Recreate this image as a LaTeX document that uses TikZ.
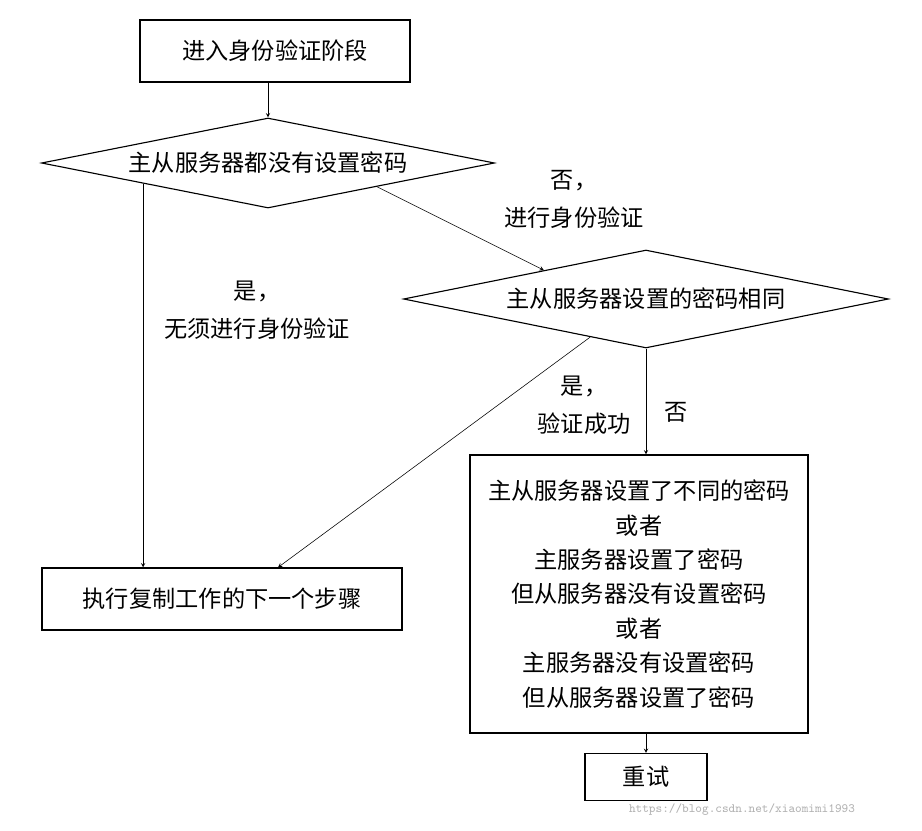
\documentclass[tikz,border=0pt]{standalone}
\usepackage{fontspec}
\setmainfont{Noto Sans CJK SC}
\usetikzlibrary{shapes.geometric,calc}
\begin{document}
\begin{tikzpicture}[x=0.025cm, y=-0.025cm, >=stealth,
  boxStyle/.style={rectangle, draw, thick, font=\fontsize{16.5}{24.5}\selectfont, align=center, inner sep=0pt},
  decStyle/.style={diamond, draw, thick, font=\fontsize{16.5}{24.5}\selectfont, inner sep=0pt},
  labStyle/.style={font=\fontsize{16.5}{27}\selectfont, align=center},
  lineStyle/.style={thin}]
  \useasboundingbox (0,0) rectangle (922,830);

  \node[boxStyle, minimum width=270*0.025cm, minimum height=62*0.025cm] (start) at (275,51) {进入身份验证阶段};
  \node[decStyle, aspect=5.03, minimum width=453*0.025cm, minimum height=90*0.025cm] (noPass) at (268,163) {主从服务器都没有设置密码};
  \node[decStyle, aspect=4.95, minimum width=485*0.025cm, minimum height=98*0.025cm] (samePass) at (646,299) {主从服务器设置的密码相同};
  \node[boxStyle, minimum width=360*0.025cm, minimum height=62*0.025cm] (next) at (222,599) {执行复制工作的下一个步骤};
  \node[boxStyle, minimum width=338*0.025cm, minimum height=278*0.025cm] (diff) at (639,594) {主从服务器设置了不同的密码\\或者\\主服务器设置了密码\\但从服务器没有设置密码\\或者\\主服务器没有设置密码\\但从服务器设置了密码};
  \node[boxStyle, minimum width=122*0.025cm, minimum height=47*0.025cm] (retry) at (646,777) {重试};

  \coordinate (noPassL) at ($(noPass.west)!0.45!(noPass.south)$);
  \coordinate (noPassR) at ($(noPass.south)!0.48!(noPass.east)$);
  \coordinate (samePassT) at ($(samePass.north)!0.42!(samePass.west)$);
  \coordinate (samePassL) at ($(samePass.south)!0.23!(samePass.west)$);
  \coordinate (nextR) at ($(next.north west)!0.655!(next.north east)$);

  \draw[->] (start.south -| noPass.north) -- (noPass.north);
  \draw[->] (noPassL) -- (noPassL |- next.north);
  \draw[->] (noPassR) -- (samePassT);
  \draw[->] (samePassL) -- (nextR);
  \draw[->] (samePass.south) -- (samePass.south |- diff.north);
  \draw[->] (diff.south -| retry.north) -- (retry.north);

  \node[labStyle] (yes1) at (257,310) {是，\\无须进行身份验证};
  \node[labStyle] (no1) at (574,199) {否，\\进行身份验证};
  \node[labStyle] (yes2) at (584,405) {是，\\验证成功};
  \node[labStyle] (no2) at (676,412) {否};
  \node[font=\ttfamily\small, text=gray!60] (mark) at (742,810) {https://blog.csdn.net/xiaomimi1993};
\end{tikzpicture}
\end{document}
